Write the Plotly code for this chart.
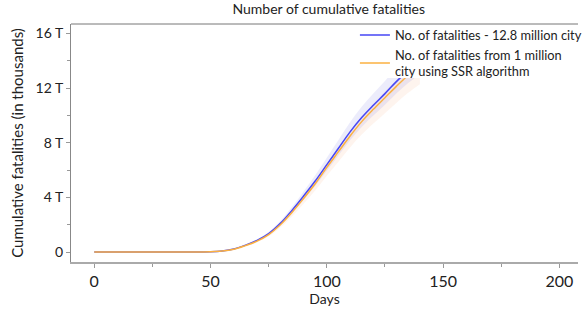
import plotly.graph_objects as go

days = [0, 10, 20, 30, 40, 50, 55, 60, 65, 70, 75, 80, 85, 90, 95, 100, 105, 110, 115, 120, 125, 130, 135, 140]
blue = [0, 0, 0, 0, 0, 0.02, 0.08, 0.22, 0.5, 0.85, 1.35, 2.1, 3.05, 4.1, 5.2, 6.4, 7.6, 8.8, 9.85, 10.75, 11.6, 12.5, 13.3, 14.0]
blue_up = [0, 0, 0, 0, 0, 0.02, 0.09, 0.24, 0.54, 0.92, 1.46, 2.27, 3.29, 4.43, 5.62, 6.91, 8.21, 9.5, 10.64, 11.61, 12.53, 13.5, 14.36, 15.12]
blue_lo = [0, 0, 0, 0, 0, 0.02, 0.07, 0.2, 0.47, 0.79, 1.26, 1.95, 2.84, 3.81, 4.84, 5.95, 7.07, 8.18, 9.16, 10.0, 10.79, 11.63, 12.37, 13.02]
orange = [0, 0, 0, 0, 0, 0.02, 0.07, 0.2, 0.47, 0.8, 1.28, 2.0, 2.9, 3.92, 5.0, 6.2, 7.35, 8.5, 9.55, 10.45, 11.3, 12.15, 12.95, 13.65]
orange_up = [0, 0, 0, 0, 0, 0.02, 0.07, 0.21, 0.49, 0.83, 1.33, 2.08, 3.02, 4.08, 5.2, 6.45, 7.64, 8.84, 9.93, 10.87, 11.75, 12.64, 13.47, 14.2]
orange_lo = [0, 0, 0, 0, 0, 0.02, 0.06, 0.18, 0.42, 0.72, 1.15, 1.8, 2.61, 3.53, 4.5, 5.58, 6.62, 7.65, 8.6, 9.41, 10.17, 10.94, 11.66, 12.29]

ytick_vals = [0, 4, 8, 12, 16]
ytick_text = ["0", "4 T", "8 T", "12 T", "16 T"]
xtick_vals = [0, 50, 100, 150, 200]

name_blue = "No. of fatalities - 12.8 million city"
name_orange = "No. of fatalities from 1 million<br>city using SSR algorithm"

FONT = "Lato"
TXT = "#222222"

fig = go.Figure()

# bands
fig.add_trace(go.Scatter(x=days, y=orange_lo, mode="lines", line=dict(width=0, shape="spline"),
                         showlegend=False, hoverinfo="skip"))
fig.add_trace(go.Scatter(x=days, y=orange_up, mode="lines", line=dict(width=0, shape="spline"),
                         fill="tonexty", fillcolor="rgba(250,170,120,0.13)",
                         showlegend=False, hoverinfo="skip"))
fig.add_trace(go.Scatter(x=days, y=blue_lo, mode="lines", line=dict(width=0, shape="spline"),
                         showlegend=False, hoverinfo="skip"))
fig.add_trace(go.Scatter(x=days, y=blue_up, mode="lines", line=dict(width=0, shape="spline"),
                         fill="tonexty", fillcolor="rgba(130,130,230,0.15)",
                         showlegend=False, hoverinfo="skip"))

# lines
fig.add_trace(go.Scatter(x=days, y=blue, mode="lines", name=name_blue,
                         line=dict(color="#4646f5", width=1.5, shape="spline")))
fig.add_trace(go.Scatter(x=days, y=orange, mode="lines", name=name_orange,
                         line=dict(color="#fbb040", width=1.5, shape="spline")))

fig.update_layout(
    width=587, height=312,
    margin=dict(l=71, r=0, t=24, b=50),
    paper_bgcolor="white", plot_bgcolor="white",
    font=dict(family=FONT, color=TXT),
    title=dict(text="Number of cumulative fatalities", x=0.56, xanchor="center",
               y=0.97, yanchor="middle", font=dict(size=14, family=FONT, color=TXT)),
    legend=dict(x=0.56, y=1.016, xanchor="left", yanchor="top", traceorder="normal",
                bgcolor="rgba(0,0,0,0)", font=dict(size=12.8, family=FONT, color=TXT),
                tracegroupgap=0, itemwidth=30),
    showlegend=True,
)

fig.update_xaxes(
    range=[-10, 208], tickvals=xtick_vals, ticks="outside", ticklen=4, tickcolor="#999999",
    showgrid=False, zeroline=False, showline=True, linecolor="#aaaaaa", linewidth=2,
    mirror=False, tickfont=dict(size=16, family=FONT, color=TXT),
    title=dict(text="Days", font=dict(size=14, family=FONT, color=TXT), standoff=0),
    minor=dict(tickvals=[25, 75, 125, 175], ticks="outside", ticklen=3, tickcolor="#999999"),
)
fig.update_yaxes(
    range=[-0.73, 16.7], tickvals=ytick_vals, ticktext=ytick_text, ticks="outside", ticklen=4,
    tickcolor="#999999", showgrid=False, zeroline=False, showline=True, linecolor="#888888",
    linewidth=1, tickfont=dict(size=14, family=FONT, color=TXT),
    title=dict(text="Cumulative fatalities (in thousands)", font=dict(size=15, family=FONT, color=TXT),
               standoff=8),
    minor=dict(tickvals=[2, 6, 10, 14], ticks="outside", ticklen=3, tickcolor="#999999"),
)

# white backdrop behind the legend (covers the curves), then the top border line
fig.add_shape(type="rect", xref="paper", yref="paper", x0=0.56, x1=1.0, y0=0.773, y1=1.0,
              layer="above", fillcolor="white", line=dict(width=0))
fig.add_shape(type="line", xref="paper", yref="paper", x0=0, x1=1, y0=1, y1=1,
              layer="above", line=dict(color="#777777", width=1))

fig.write_html("out.html", post_script="document.body.style.margin='0';",
               config={"displayModeBar": False})
